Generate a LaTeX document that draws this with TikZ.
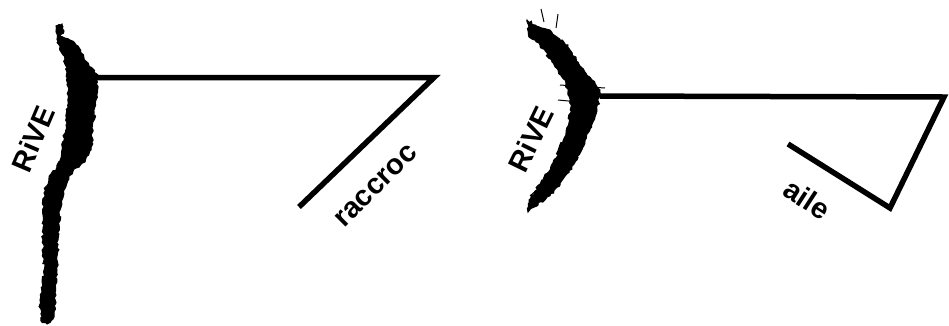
\documentclass[tikz,border=0pt]{standalone}
\usepackage{fontspec}
\setmainfont{Liberation Sans}
\usetikzlibrary{decorations.pathmorphing}
\begin{document}
\begin{tikzpicture}[x=1pt,y=-1pt,
  cord/.style={line width=5.5pt,miter limit=10,line join=miter},
  bank/.style={fill=black,draw=black,line width=1pt,
    decorate,decoration={random steps,segment length=2.5pt,amplitude=1.3pt}},
  hatch/.style={line width=1pt},
  lab/.style={font=\bfseries\fontsize{29}{29}\selectfont,inner sep=0pt}]
\useasboundingbox (0,0) rectangle (949,325);
% ---------- left panel ----------
\fill[bank] (56,26) -- (62,24) -- (64,31) -- (60,36) -- (70,40) -- (78,46) -- (87,62) -- (98,75)
  -- (96,100) -- (93,130) -- (91,150) -- (85,162) -- (76,168) -- (69,176) -- (64,190) -- (60,210)
  -- (58,240) -- (57,270) -- (56,295) -- (54,317) -- (47,324) -- (41,321) -- (40,300)
  -- (44,270) -- (43,240) -- (43,215) -- (44,193) -- (49,178) -- (57,167) -- (62,150)
  -- (66,125) -- (68,95) -- (67,72) -- (63,55) -- (58,42) -- (57,34) -- cycle;
\draw[line width=1pt] (60,36) -- (63,26);
\coordinate (l0) at (97,77.5);
\coordinate (l1) at (434,77.5);
\coordinate (l2) at (299,207);
\draw[cord] (l0) -- (l1) -- (l2);
\node[lab,rotate=67] (rive1) at (33,139) {RiVE};
\node[lab,rotate=45] (raccroc) at (376,186) {raccroc};
% ---------- right panel ----------
\fill[bank] (527,20) -- (535,25) -- (550,30) -- (560,40) -- (568,45) -- (580,66) -- (592,80)
  -- (600,90) -- (597,110) -- (588,133) -- (577,160) -- (560,185) -- (545,200) -- (532,208)
  -- (528,212) -- (529,200) -- (543,180) -- (556,158) -- (566,133) -- (571,107) -- (566,83)
  -- (552,62) -- (540,45) -- (529,37) -- cycle;
\draw[hatch] (544,22) -- (541,9);
\draw[hatch] (556,28) -- (558,14);
\draw[hatch] (560,85) -- (605,88);
\draw[hatch] (558,100) -- (600,104);
\draw[hatch] (548,180) -- (530,196);
\coordinate (r0) at (600,96);
\coordinate (r1) at (944,97);
\coordinate (r2) at (890,208);
\coordinate (r3) at (788,144);
\draw[cord] (r0) -- (r1) -- (r2) -- (r3);
\node[lab,rotate=64] (rive2) at (531,139) {RiVE};
\node[lab,rotate=-33] (aile) at (807,199) {aile};
\end{tikzpicture}
\end{document}
